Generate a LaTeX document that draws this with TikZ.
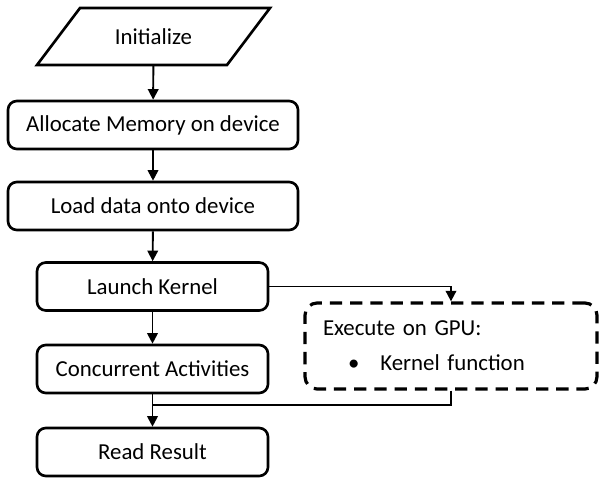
\documentclass[tikz,border=0pt]{standalone}
\usepackage{fontspec}
\setmainfont{Carlito}
\usetikzlibrary{arrows.meta}

\begin{document}
\begin{tikzpicture}[
        box/.style={draw, rounded corners=5pt, line width=1.5pt, minimum height=0.96cm, align=center},
        wide/.style={box, minimum width=5.8cm},
        narrow/.style={box, minimum width=4.62cm},
        flow/.style={line width=1.1pt, -{Triangle[length=6pt,width=6pt]}},
        font=\fontsize{13}{20}\selectfont]
            \useasboundingbox (0,0) rectangle (11.98,-9.56);

            % Define positions of the steps on the host
            \node[minimum width=3.8cm, minimum height=1.14cm, inner sep=0pt, outer sep=0pt] (init) at (3.07,-0.73) {Initialize};
            \draw[line width=1.5pt] ([xshift=0.43cm]init.north west) -- ([xshift=0.43cm]init.north east)
                -- ([xshift=-0.43cm]init.south east) -- ([xshift=-0.43cm]init.south west) -- cycle;
            \node[wide] (alloc) at (3.06,-2.5) {Allocate Memory on device};
            \node[wide] (load) at (3.06,-4.12) {Load data onto device};
            \node[narrow] (launch) at (3.05,-5.73) {Launch Kernel};
            \node[narrow] (conc) at (3.05,-7.38) {Concurrent Activities};
            \node[narrow] (read) at (3.05,-9.04) {Read Result};

            % the device side
            \node[draw, dash pattern=on 7pt off 4.5pt, line width=1.8pt, rounded corners=7pt, text width=5.12cm, inner sep=0.36cm, minimum height=1.44cm, align=left] (gpu) at (9.02,-6.92) {Execute on GPU:\\\hspace*{0.5cm}\textbullet\hspace{0.42cm}Kernel function};
            \coordinate (merge) at (3.05,-8.1);

            % draw the arrows between the steps
            \draw[flow] (init) -- (alloc);
            \draw[flow] (alloc) -- (load);
            \draw[flow] (load) -- (launch);
            \draw[flow] (launch) -- (conc);
            \draw[flow] (conc) -- (read);
            \draw[flow] (launch.east) -| (gpu.north);
            \draw[line width=1.1pt] (gpu.south) |- (merge);
        \end{tikzpicture}
\end{document}
